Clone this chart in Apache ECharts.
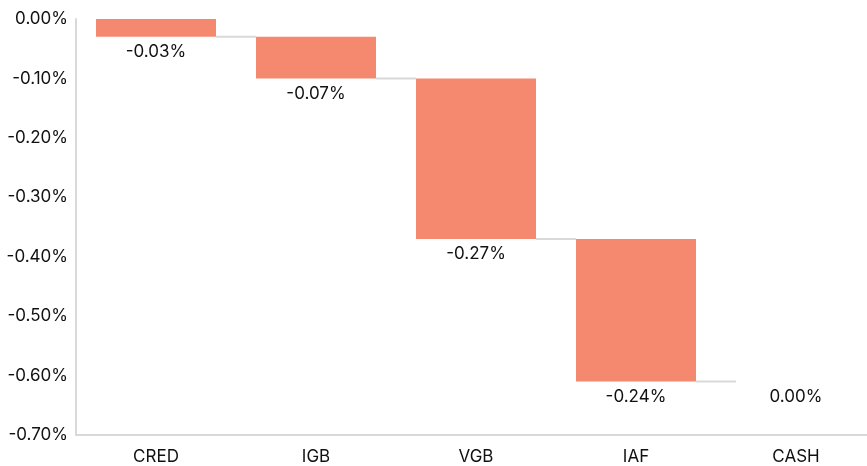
<!DOCTYPE html>
<html>
<head>
<meta charset="utf-8">
<script src="https://cdn.jsdelivr.net/npm/echarts@6/dist/echarts.min.js"></script>
<style>
  html, body { margin: 0; padding: 0; background: #fff; overflow: hidden; }
  #main { width: 876px; height: 466px; }
</style>
</head>
<body>
<div id="main"></div>
<script>
var categories = ['CRED', 'IGB', 'VGB', 'IAF', 'CASH'];
var deltas = [-0.03, -0.07, -0.27, -0.24, 0.00];

// running start of each step (transparent base)
var bases = [];
var ends = [];
var run = 0;
for (var i = 0; i < deltas.length; i++) {
    bases.push(+run.toFixed(4));
    run += deltas[i];
    ends.push(+run.toFixed(4));
}

// the plot runs a little past the right edge of the window, as in the original
var chart = echarts.init(document.getElementById('main'));
var font = 'Inter, "Noto Sans", sans-serif';
var BAR_W = 120;

chart.setOption({
    animation: false,
    grid: { left: 76, right: 0, top: 19, bottom: 31, containLabel: false },
    xAxis: {
        type: 'category',
        data: categories,
        axisLine: { onZero: false, lineStyle: { color: '#d9d9d9', width: 2 } },
        axisTick: { show: false },
        axisLabel: { color: '#111', fontSize: 17, fontFamily: font, margin: 13 }
    },
    yAxis: {
        type: 'value',
        min: -0.7,
        max: 0,
        interval: 0.1,
        axisLine: { show: true, lineStyle: { color: '#d9d9d9', width: 2 } },
        axisTick: { show: false },
        splitLine: { show: false },
        axisLabel: {
            color: '#111', fontSize: 17, fontFamily: font, margin: 8,
            padding: [3, 0, 0, 0],
            formatter: function (v) { return v.toFixed(2) + '%'; }
        }
    },
    series: [{
        type: 'bar',
        stack: 'wf',
        stackStrategy: 'all',
        barWidth: BAR_W,
        itemStyle: { color: 'transparent' },
        silent: true,
        data: bases
    }, {
        type: 'bar',
        stack: 'wf',
        stackStrategy: 'all',
        barWidth: BAR_W,
        itemStyle: { color: '#f4896f' },
        label: {
            show: true,
            position: 'bottom',
            distance: 7,
            color: '#111',
            fontSize: 17,
            fontFamily: font,
            formatter: function (p) { return p.value.toFixed(2) + '%'; }
        },
        data: deltas
    }, {
        type: 'custom',
        silent: true,
        z: 1,
        data: ends.slice(0, ends.length - 1).map(function (v, i) { return [i, v]; }),
        renderItem: function (params, api) {
            var i = api.value(0);
            var v = api.value(1);
            var a = api.coord([i, v]);
            var b = api.coord([i + 1, v]);
            return {
                type: 'line',
                shape: { x1: a[0] + BAR_W / 2, y1: a[1], x2: b[0] - BAR_W / 2, y2: b[1] },
                style: { stroke: '#d9d9d9', lineWidth: 2 }
            };
        }
    }]
});
</script>
</body>
</html>
